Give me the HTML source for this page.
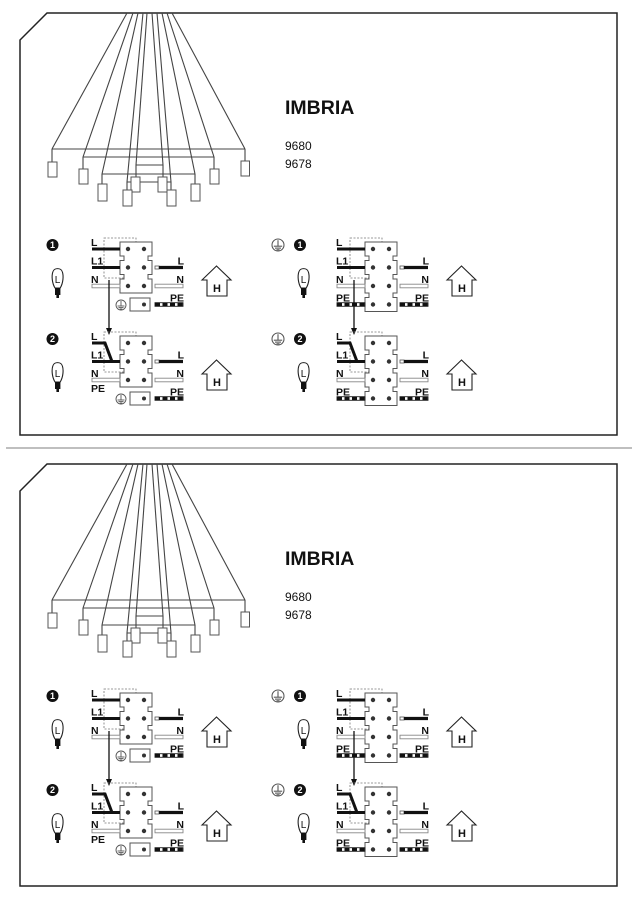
<!DOCTYPE html>
<html><head><meta charset="utf-8"><style>
html,body{margin:0;padding:0;background:#fff;}
svg{display:block;}
text{font-family:"Liberation Sans",sans-serif;}
.lb{font-weight:bold;font-size:10.5px;fill:#111;}
.num{font-size:9px;font-weight:bold;fill:#fff;}
</style></head><body>
<svg width="637" height="900" viewBox="0 0 637 900" xmlns="http://www.w3.org/2000/svg">
<defs>
  <path id="blk3" d="M0,-7H32V7H28V11.5H32V25.5H28V30H32V44H0V30H4V25.5H0V11.5H4V7H0Z" fill="#fff" stroke="#555" stroke-width="1"/>
  <path id="blk4" d="M0,-7H32V7H28V11.5H32V25.5H28V30H32V44H28V48.5H32V62.5H0V48.5H4V44H0V30H4V25.5H0V11.5H4V7H0Z" fill="#fff" stroke="#555" stroke-width="1"/>
  <g id="scr"><circle cx="8" cy="0" r="2.2" fill="#333"/><circle cx="24" cy="0" r="2.2" fill="#333"/></g>
  <g id="gray"><rect x="0" y="-1.8" width="28" height="3.6" fill="#fff" stroke="#888" stroke-width="0.9"/></g>
  <g id="pe"><rect x="0" y="-1.8" width="28" height="3.6" fill="#fff" stroke="#222" stroke-width="0.9"/><line x1="0" y1="0" x2="28" y2="0" stroke="#111" stroke-width="3.6" stroke-dasharray="5 2.5"/></g>
  <g id="rblk"><rect x="35" y="-1.5" width="4" height="3" fill="#fff" stroke="#555" stroke-width="0.8"/><line x1="39" y1="0" x2="63" y2="0" stroke="#111" stroke-width="3.2"/></g>
  <g id="gnd"><circle cx="0" cy="0" r="5" fill="#fff" stroke="#555" stroke-width="0.9"/><line x1="0" y1="-4" x2="0" y2="1" stroke="#555" stroke-width="0.9"/><line x1="-3.5" y1="1" x2="3.5" y2="1" stroke="#555" stroke-width="0.9"/><line x1="-2.5" y1="2.6" x2="2.5" y2="2.6" stroke="#555" stroke-width="0.9"/><line x1="-1.3" y1="4" x2="1.3" y2="4" stroke="#555" stroke-width="0.9"/></g>
  <g id="bulb"><path d="M3,20 C0,15 -0.5,8 0.8,4 C2,-0.5 9.2,-0.5 10.4,4 C11.7,8 11.2,15 8.2,20 Z" fill="#fff" stroke="#222" stroke-width="1.1"/><rect x="3" y="20" width="5.4" height="7" fill="#111"/><rect x="4.4" y="27" width="2.6" height="3" fill="#111"/></g>
  <g id="house"><path d="M82,31 L96.5,17 L111,31 L107,31 L107,47 L87,47 L87,31 Z" fill="#fff" stroke="#222" stroke-width="1.1"/></g>
  <g id="arrow"><line x1="-11" y1="31" x2="-11" y2="82" stroke="#111" stroke-width="1.3"/><path d="M-14,79 L-11,86 L-8,79 Z" fill="#111"/></g>
</defs>

<g id="panel">
  <path d="M47,13 H617 V435 H20 V40 Z" fill="none" stroke="#222" stroke-width="1.5"/>
  <g stroke="#444" stroke-width="1.1" fill="none">
    <line x1="127" y1="13" x2="52" y2="149"/>
    <line x1="133" y1="13" x2="83" y2="157"/>
    <line x1="138" y1="13" x2="102" y2="174"/>
    <line x1="143" y1="13" x2="127" y2="182"/>
    <line x1="147" y1="13" x2="136" y2="165"/>
    <line x1="152" y1="13" x2="163" y2="165"/>
    <line x1="157" y1="13" x2="171" y2="182"/>
    <line x1="162" y1="13" x2="195" y2="174"/>
    <line x1="167" y1="13" x2="214" y2="157"/>
    <line x1="172" y1="13" x2="245" y2="149"/>
    <line x1="52" y1="149" x2="245" y2="149"/>
    <line x1="83" y1="157" x2="214" y2="157"/>
    <line x1="102" y1="174" x2="195" y2="174"/>
    <line x1="136" y1="165" x2="163" y2="165"/>
    <line x1="127" y1="182" x2="171" y2="182"/>
    <line x1="52" y1="149" x2="52" y2="162"/><line x1="245" y1="149" x2="245" y2="161"/>
    <line x1="83" y1="157" x2="83" y2="169"/><line x1="214" y1="157" x2="214" y2="169"/>
    <line x1="102" y1="174" x2="102" y2="184"/><line x1="195" y1="174" x2="195" y2="184"/>
    <line x1="136" y1="165" x2="136" y2="177"/><line x1="163" y1="165" x2="163" y2="177"/>
    <line x1="127" y1="182" x2="127" y2="190"/><line x1="171" y1="182" x2="171" y2="190"/>
  </g>
  <g fill="#fff" stroke="#555" stroke-width="1">
    <rect x="48" y="162" width="9" height="15"/><rect x="241" y="161" width="8.5" height="15"/>
    <rect x="79" y="169" width="9" height="15"/><rect x="210" y="169" width="9" height="15"/>
    <rect x="98" y="184" width="9" height="17"/><rect x="191" y="184" width="9" height="17"/>
    <rect x="131" y="177" width="9" height="15"/><rect x="158" y="177" width="9" height="15"/>
    <rect x="123" y="190" width="9" height="16"/><rect x="167" y="190" width="9" height="16"/>
  </g>
  <text x="285" y="114" font-size="19.5" font-weight="bold" fill="#111">IMBRIA</text>
  <text x="285" y="150" font-size="12" fill="#111">9680</text>
  <text x="285" y="168" font-size="12" fill="#111">9678</text>

  <g transform="translate(120,249)">
    <circle cx="-67.5" cy="-4" r="6" fill="#111"/><text class="num" x="-67.5" y="-0.8" text-anchor="middle">1</text>
    <use href="#bulb" transform="translate(-68,19)"/><text x="-62.5" y="34" font-size="10" text-anchor="middle" fill="#111">L</text>
    <rect x="-16" y="-11" width="32" height="40" fill="none" stroke="#777" stroke-width="0.8" stroke-dasharray="2 1.5"/>
    <use href="#blk3"/><use href="#scr"/><use href="#scr" y="18.5"/><use href="#scr" y="37"/>
    <line x1="-28" y1="0" x2="0" y2="0" stroke="#111" stroke-width="3"/>
    <line x1="-28" y1="18.5" x2="0" y2="18.5" stroke="#111" stroke-width="3"/>
    <use href="#gray" x="-28" y="37"/>
    <text class="lb" x="-29" y="-3">L</text><text class="lb" x="-29" y="15.5">L1</text><text class="lb" x="-29" y="34">N</text>
    <use href="#rblk" y="18.5"/><use href="#gray" x="35" y="37"/><use href="#pe" x="35" y="55.5"/>
    <text class="lb" x="64" y="15.5" text-anchor="end">L</text><text class="lb" x="64" y="34" text-anchor="end">N</text><text class="lb" x="64" y="52.5" text-anchor="end">PE</text>
    <rect x="10" y="49" width="20" height="13" fill="#fff" stroke="#555"/><circle cx="24" cy="55.5" r="2" fill="#333"/>
    <use href="#gnd" x="1" y="56"/>
    <use href="#arrow"/>
    <use href="#house"/><text x="97" y="43" font-size="11" font-weight="bold" text-anchor="middle" fill="#111">H</text>
  </g>
  <g transform="translate(120,343)">
    <circle cx="-67.5" cy="-4" r="6" fill="#111"/><text class="num" x="-67.5" y="-0.8" text-anchor="middle">2</text>
    <use href="#bulb" transform="translate(-68,19)"/><text x="-62.5" y="34" font-size="10" text-anchor="middle" fill="#111">L</text>
    <rect x="-16" y="-11" width="32" height="40" fill="none" stroke="#777" stroke-width="0.8" stroke-dasharray="2 1.5"/>
    <use href="#blk3"/><use href="#scr"/><use href="#scr" y="18.5"/><use href="#scr" y="37"/>
    <polyline points="-28,0 -15,0 -8,18.5 0,18.5" fill="none" stroke="#111" stroke-width="3"/>
    <line x1="-28" y1="18.5" x2="0" y2="18.5" stroke="#111" stroke-width="3"/>
    <use href="#gray" x="-28" y="37"/>
    <text class="lb" x="-29" y="-3">L</text><text class="lb" x="-29" y="15.5">L1</text><text class="lb" x="-29" y="34">N</text><text class="lb" x="-29" y="49">PE</text>
    <use href="#rblk" y="18.5"/><use href="#gray" x="35" y="37"/><use href="#pe" x="35" y="55.5"/>
    <text class="lb" x="64" y="15.5" text-anchor="end">L</text><text class="lb" x="64" y="34" text-anchor="end">N</text><text class="lb" x="64" y="52.5" text-anchor="end">PE</text>
    <rect x="10" y="49" width="20" height="13" fill="#fff" stroke="#555"/><circle cx="24" cy="55.5" r="2" fill="#333"/>
    <use href="#gnd" x="1" y="56"/>
    <use href="#house"/><text x="97" y="43" font-size="11" font-weight="bold" text-anchor="middle" fill="#111">H</text>
  </g>
  <g transform="translate(365,249)">
    <use href="#gnd" transform="translate(-87,-4) scale(1.2)"/>
    <circle cx="-65" cy="-4" r="6" fill="#111"/><text class="num" x="-65" y="-0.8" text-anchor="middle">1</text>
    <use href="#bulb" transform="translate(-67,19)"/><text x="-61.5" y="34" font-size="10" text-anchor="middle" fill="#111">L</text>
    <rect x="-15" y="-11" width="32" height="40" fill="none" stroke="#777" stroke-width="0.8" stroke-dasharray="2 1.5"/>
    <use href="#blk4"/><use href="#scr"/><use href="#scr" y="18.5"/><use href="#scr" y="37"/><use href="#scr" y="55.5"/>
    <line x1="-28" y1="0" x2="0" y2="0" stroke="#111" stroke-width="3"/>
    <line x1="-28" y1="18.5" x2="0" y2="18.5" stroke="#111" stroke-width="3"/>
    <use href="#gray" x="-28" y="37"/><use href="#pe" x="-28" y="55.5"/>
    <text class="lb" x="-29" y="-3">L</text><text class="lb" x="-29" y="15.5">L1</text><text class="lb" x="-29" y="34">N</text><text class="lb" x="-29" y="52.5">PE</text>
    <use href="#rblk" y="18.5"/><use href="#gray" x="35" y="37"/><use href="#pe" x="35" y="55.5"/>
    <text class="lb" x="64" y="15.5" text-anchor="end">L</text><text class="lb" x="64" y="34" text-anchor="end">N</text><text class="lb" x="64" y="52.5" text-anchor="end">PE</text>
    <use href="#arrow"/>
    <use href="#house"/><text x="97" y="43" font-size="11" font-weight="bold" text-anchor="middle" fill="#111">H</text>
  </g>
  <g transform="translate(365,343)">
    <use href="#gnd" transform="translate(-87,-4) scale(1.2)"/>
    <circle cx="-65" cy="-4" r="6" fill="#111"/><text class="num" x="-65" y="-0.8" text-anchor="middle">2</text>
    <use href="#bulb" transform="translate(-67,19)"/><text x="-61.5" y="34" font-size="10" text-anchor="middle" fill="#111">L</text>
    <rect x="-15" y="-11" width="32" height="40" fill="none" stroke="#777" stroke-width="0.8" stroke-dasharray="2 1.5"/>
    <use href="#blk4"/><use href="#scr"/><use href="#scr" y="18.5"/><use href="#scr" y="37"/><use href="#scr" y="55.5"/>
    <polyline points="-28,0 -15,0 -8,18.5 0,18.5" fill="none" stroke="#111" stroke-width="3"/>
    <line x1="-28" y1="18.5" x2="0" y2="18.5" stroke="#111" stroke-width="3"/>
    <use href="#gray" x="-28" y="37"/><use href="#pe" x="-28" y="55.5"/>
    <text class="lb" x="-29" y="-3">L</text><text class="lb" x="-29" y="15.5">L1</text><text class="lb" x="-29" y="34">N</text><text class="lb" x="-29" y="52.5">PE</text>
    <use href="#rblk" y="18.5"/><use href="#gray" x="35" y="37"/><use href="#pe" x="35" y="55.5"/>
    <text class="lb" x="64" y="15.5" text-anchor="end">L</text><text class="lb" x="64" y="34" text-anchor="end">N</text><text class="lb" x="64" y="52.5" text-anchor="end">PE</text>
    <use href="#house"/><text x="97" y="43" font-size="11" font-weight="bold" text-anchor="middle" fill="#111">H</text>
  </g>
</g>

<line x1="6" y1="448" x2="632" y2="448" stroke="#999" stroke-width="1.2"/>

<g transform="translate(0,451)">
  <path d="M47,13 H617 V435 H20 V40 Z" fill="none" stroke="#222" stroke-width="1.5"/>
  <g stroke="#444" stroke-width="1.1" fill="none">
    <line x1="127" y1="13" x2="52" y2="149"/>
    <line x1="133" y1="13" x2="83" y2="157"/>
    <line x1="138" y1="13" x2="102" y2="174"/>
    <line x1="143" y1="13" x2="127" y2="182"/>
    <line x1="147" y1="13" x2="136" y2="165"/>
    <line x1="152" y1="13" x2="163" y2="165"/>
    <line x1="157" y1="13" x2="171" y2="182"/>
    <line x1="162" y1="13" x2="195" y2="174"/>
    <line x1="167" y1="13" x2="214" y2="157"/>
    <line x1="172" y1="13" x2="245" y2="149"/>
    <line x1="52" y1="149" x2="245" y2="149"/>
    <line x1="83" y1="157" x2="214" y2="157"/>
    <line x1="102" y1="174" x2="195" y2="174"/>
    <line x1="136" y1="165" x2="163" y2="165"/>
    <line x1="127" y1="182" x2="171" y2="182"/>
    <line x1="52" y1="149" x2="52" y2="162"/><line x1="245" y1="149" x2="245" y2="161"/>
    <line x1="83" y1="157" x2="83" y2="169"/><line x1="214" y1="157" x2="214" y2="169"/>
    <line x1="102" y1="174" x2="102" y2="184"/><line x1="195" y1="174" x2="195" y2="184"/>
    <line x1="136" y1="165" x2="136" y2="177"/><line x1="163" y1="165" x2="163" y2="177"/>
    <line x1="127" y1="182" x2="127" y2="190"/><line x1="171" y1="182" x2="171" y2="190"/>
  </g>
  <g fill="#fff" stroke="#555" stroke-width="1">
    <rect x="48" y="162" width="9" height="15"/><rect x="241" y="161" width="8.5" height="15"/>
    <rect x="79" y="169" width="9" height="15"/><rect x="210" y="169" width="9" height="15"/>
    <rect x="98" y="184" width="9" height="17"/><rect x="191" y="184" width="9" height="17"/>
    <rect x="131" y="177" width="9" height="15"/><rect x="158" y="177" width="9" height="15"/>
    <rect x="123" y="190" width="9" height="16"/><rect x="167" y="190" width="9" height="16"/>
  </g>
  <text x="285" y="114" font-size="19.5" font-weight="bold" fill="#111">IMBRIA</text>
  <text x="285" y="150" font-size="12" fill="#111">9680</text>
  <text x="285" y="168" font-size="12" fill="#111">9678</text>

  <g transform="translate(120,249)">
    <circle cx="-67.5" cy="-4" r="6" fill="#111"/><text class="num" x="-67.5" y="-0.8" text-anchor="middle">1</text>
    <use href="#bulb" transform="translate(-68,19)"/><text x="-62.5" y="34" font-size="10" text-anchor="middle" fill="#111">L</text>
    <rect x="-16" y="-11" width="32" height="40" fill="none" stroke="#777" stroke-width="0.8" stroke-dasharray="2 1.5"/>
    <use href="#blk3"/><use href="#scr"/><use href="#scr" y="18.5"/><use href="#scr" y="37"/>
    <line x1="-28" y1="0" x2="0" y2="0" stroke="#111" stroke-width="3"/>
    <line x1="-28" y1="18.5" x2="0" y2="18.5" stroke="#111" stroke-width="3"/>
    <use href="#gray" x="-28" y="37"/>
    <text class="lb" x="-29" y="-3">L</text><text class="lb" x="-29" y="15.5">L1</text><text class="lb" x="-29" y="34">N</text>
    <use href="#rblk" y="18.5"/><use href="#gray" x="35" y="37"/><use href="#pe" x="35" y="55.5"/>
    <text class="lb" x="64" y="15.5" text-anchor="end">L</text><text class="lb" x="64" y="34" text-anchor="end">N</text><text class="lb" x="64" y="52.5" text-anchor="end">PE</text>
    <rect x="10" y="49" width="20" height="13" fill="#fff" stroke="#555"/><circle cx="24" cy="55.5" r="2" fill="#333"/>
    <use href="#gnd" x="1" y="56"/>
    <use href="#arrow"/>
    <use href="#house"/><text x="97" y="43" font-size="11" font-weight="bold" text-anchor="middle" fill="#111">H</text>
  </g>
  <g transform="translate(120,343)">
    <circle cx="-67.5" cy="-4" r="6" fill="#111"/><text class="num" x="-67.5" y="-0.8" text-anchor="middle">2</text>
    <use href="#bulb" transform="translate(-68,19)"/><text x="-62.5" y="34" font-size="10" text-anchor="middle" fill="#111">L</text>
    <rect x="-16" y="-11" width="32" height="40" fill="none" stroke="#777" stroke-width="0.8" stroke-dasharray="2 1.5"/>
    <use href="#blk3"/><use href="#scr"/><use href="#scr" y="18.5"/><use href="#scr" y="37"/>
    <polyline points="-28,0 -15,0 -8,18.5 0,18.5" fill="none" stroke="#111" stroke-width="3"/>
    <line x1="-28" y1="18.5" x2="0" y2="18.5" stroke="#111" stroke-width="3"/>
    <use href="#gray" x="-28" y="37"/>
    <text class="lb" x="-29" y="-3">L</text><text class="lb" x="-29" y="15.5">L1</text><text class="lb" x="-29" y="34">N</text><text class="lb" x="-29" y="49">PE</text>
    <use href="#rblk" y="18.5"/><use href="#gray" x="35" y="37"/><use href="#pe" x="35" y="55.5"/>
    <text class="lb" x="64" y="15.5" text-anchor="end">L</text><text class="lb" x="64" y="34" text-anchor="end">N</text><text class="lb" x="64" y="52.5" text-anchor="end">PE</text>
    <rect x="10" y="49" width="20" height="13" fill="#fff" stroke="#555"/><circle cx="24" cy="55.5" r="2" fill="#333"/>
    <use href="#gnd" x="1" y="56"/>
    <use href="#house"/><text x="97" y="43" font-size="11" font-weight="bold" text-anchor="middle" fill="#111">H</text>
  </g>
  <g transform="translate(365,249)">
    <use href="#gnd" transform="translate(-87,-4) scale(1.2)"/>
    <circle cx="-65" cy="-4" r="6" fill="#111"/><text class="num" x="-65" y="-0.8" text-anchor="middle">1</text>
    <use href="#bulb" transform="translate(-67,19)"/><text x="-61.5" y="34" font-size="10" text-anchor="middle" fill="#111">L</text>
    <rect x="-15" y="-11" width="32" height="40" fill="none" stroke="#777" stroke-width="0.8" stroke-dasharray="2 1.5"/>
    <use href="#blk4"/><use href="#scr"/><use href="#scr" y="18.5"/><use href="#scr" y="37"/><use href="#scr" y="55.5"/>
    <line x1="-28" y1="0" x2="0" y2="0" stroke="#111" stroke-width="3"/>
    <line x1="-28" y1="18.5" x2="0" y2="18.5" stroke="#111" stroke-width="3"/>
    <use href="#gray" x="-28" y="37"/><use href="#pe" x="-28" y="55.5"/>
    <text class="lb" x="-29" y="-3">L</text><text class="lb" x="-29" y="15.5">L1</text><text class="lb" x="-29" y="34">N</text><text class="lb" x="-29" y="52.5">PE</text>
    <use href="#rblk" y="18.5"/><use href="#gray" x="35" y="37"/><use href="#pe" x="35" y="55.5"/>
    <text class="lb" x="64" y="15.5" text-anchor="end">L</text><text class="lb" x="64" y="34" text-anchor="end">N</text><text class="lb" x="64" y="52.5" text-anchor="end">PE</text>
    <use href="#arrow"/>
    <use href="#house"/><text x="97" y="43" font-size="11" font-weight="bold" text-anchor="middle" fill="#111">H</text>
  </g>
  <g transform="translate(365,343)">
    <use href="#gnd" transform="translate(-87,-4) scale(1.2)"/>
    <circle cx="-65" cy="-4" r="6" fill="#111"/><text class="num" x="-65" y="-0.8" text-anchor="middle">2</text>
    <use href="#bulb" transform="translate(-67,19)"/><text x="-61.5" y="34" font-size="10" text-anchor="middle" fill="#111">L</text>
    <rect x="-15" y="-11" width="32" height="40" fill="none" stroke="#777" stroke-width="0.8" stroke-dasharray="2 1.5"/>
    <use href="#blk4"/><use href="#scr"/><use href="#scr" y="18.5"/><use href="#scr" y="37"/><use href="#scr" y="55.5"/>
    <polyline points="-28,0 -15,0 -8,18.5 0,18.5" fill="none" stroke="#111" stroke-width="3"/>
    <line x1="-28" y1="18.5" x2="0" y2="18.5" stroke="#111" stroke-width="3"/>
    <use href="#gray" x="-28" y="37"/><use href="#pe" x="-28" y="55.5"/>
    <text class="lb" x="-29" y="-3">L</text><text class="lb" x="-29" y="15.5">L1</text><text class="lb" x="-29" y="34">N</text><text class="lb" x="-29" y="52.5">PE</text>
    <use href="#rblk" y="18.5"/><use href="#gray" x="35" y="37"/><use href="#pe" x="35" y="55.5"/>
    <text class="lb" x="64" y="15.5" text-anchor="end">L</text><text class="lb" x="64" y="34" text-anchor="end">N</text><text class="lb" x="64" y="52.5" text-anchor="end">PE</text>
    <use href="#house"/><text x="97" y="43" font-size="11" font-weight="bold" text-anchor="middle" fill="#111">H</text>
  </g>
</g>
</svg>
</body></html>
